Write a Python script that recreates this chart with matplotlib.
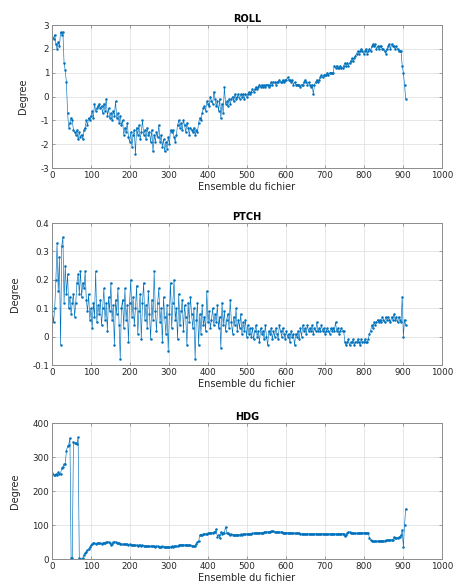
import matplotlib
matplotlib.use("Agg")
import matplotlib.pyplot as plt
import numpy as np

# one sample out of three, sample numbers 1, 4, 7, ... 907
roll = [
    2.5, 2.4, 2.6, 2.2, 2.0, 2.3, 2.1, 2.7, 2.6, 2.7,
    1.4, 1.1, 0.6, -0.7, -1.3, -1.1, -0.9, -1.0, -1.4, -1.5,
    -1.6, -1.4, -1.8, -1.5, -1.7, -1.6, -1.8, -1.4, -1.3, -1.0,
    -1.2, -0.9, -1.0, -0.8, -0.6, -0.9, -0.3, -0.6, -0.5, -0.4,
    -0.3, -0.5, -0.4, -0.7, -0.3, -0.6, -0.1, -0.8, -0.5, -0.9,
    -0.7, -1.0, -0.6, -0.8, -0.2, -0.9, -0.7, -1.1, -0.8, -1.2,
    -1.0, -1.6, -1.3, -1.5, -1.1, -1.7, -1.9, -1.5, -2.1, -1.6,
    -1.4, -2.4, -1.3, -1.6, -1.2, -1.8, -1.5, -1.0, -1.6, -1.4,
    -1.8, -1.3, -1.6, -1.5, -1.9, -1.4, -2.3, -1.6, -1.9, -1.5,
    -1.7, -1.2, -1.9, -1.6, -2.1, -1.8, -2.3, -1.9, -2.2, -1.7,
    -2.0, -1.4, -1.5, -1.4, -1.7, -1.9, -1.6, -1.2, -1.0, -1.3,
    -1.1, -1.4, -1.0, -1.2, -1.5, -1.1, -1.3, -1.6, -1.3, -1.4,
    -1.5, -1.3, -1.6, -1.4, -1.5, -1.1, -0.9, -1.0, -0.7, -0.5,
    -0.4, -0.6, -0.2, -0.3, -0.4, 0.0, -0.2, -0.3, 0.2, -0.1,
    -0.4, -0.2, -0.6, -0.1, -0.9, -0.3, -0.7, 0.4, -0.3, -0.2,
    -0.4, -0.1, -0.3, -0.1, 0.0, -0.2, 0.1, -0.1, 0.0, 0.1,
    -0.1, 0.1, 0.0, 0.1, -0.1, 0.1, 0.0, 0.1, 0.2, 0.1,
    0.2, 0.3, 0.2, 0.3, 0.4, 0.3, 0.4, 0.5, 0.4, 0.5,
    0.4, 0.5, 0.4, 0.5, 0.5, 0.4, 0.5, 0.6, 0.5, 0.6,
    0.6, 0.5, 0.6, 0.6, 0.7, 0.6, 0.6, 0.7, 0.6, 0.7,
    0.7, 0.8, 0.7, 0.7, 0.6, 0.7, 0.5, 0.6, 0.5, 0.5,
    0.5, 0.5, 0.4, 0.5, 0.5, 0.6, 0.7, 0.6, 0.5, 0.6,
    0.5, 0.4, 0.5, 0.1, 0.5, 0.6, 0.7, 0.6, 0.7, 0.8,
    0.9, 0.8, 0.9, 0.9, 0.9, 1.0, 0.9, 1.0, 1.0, 1.0,
    1.0, 1.3, 1.2, 1.3, 1.2, 1.2, 1.3, 1.2, 1.2, 1.3,
    1.4, 1.3, 1.4, 1.3, 1.4, 1.5, 1.6, 1.5, 1.6, 1.7,
    1.8, 1.9, 1.8, 1.9, 2.0, 1.9, 1.8, 1.9, 2.0, 1.8,
    1.9, 2.0, 1.9, 2.1, 2.2, 2.1, 2.2, 2.0, 2.1, 2.0,
    2.1, 2.1, 2.0, 2.0, 1.9, 1.8, 2.0, 2.1, 2.2, 2.0,
    2.2, 2.1, 2.1, 2.0, 2.1, 2.0, 1.9, 1.9, 1.9, 1.3,
    1.0, 0.5, -0.1,
]

ptch = [
    0.09, 0.05, 0.10, 0.20, 0.33, 0.16, 0.28, -0.03, 0.32, 0.35,
    0.12, 0.25, 0.15, 0.22, 0.10, 0.14, 0.08, 0.12, 0.15, 0.07,
    0.12, 0.19, 0.22, 0.15, 0.23, 0.14, 0.19, 0.17, 0.23, 0.13,
    0.09, 0.15, 0.06, 0.10, 0.03, 0.12, 0.07, 0.23, 0.05, 0.11,
    0.08, 0.13, 0.04, 0.10, 0.17, 0.06, 0.12, 0.02, 0.14, 0.09,
    0.19, 0.06, 0.11, -0.03, 0.13, 0.08, 0.17, 0.04, -0.08, 0.10,
    0.13, 0.03, 0.17, 0.06, 0.11, -0.02, 0.12, 0.20, 0.07, 0.14,
    0.04, 0.10, 0.18, 0.01, 0.09, 0.15, -0.01, 0.12, 0.19, 0.06,
    0.11, 0.03, 0.16, 0.08, -0.01, 0.13, 0.06, 0.23, 0.09, 0.02,
    0.12, 0.17, 0.05, 0.10, -0.02, 0.14, 0.07, 0.01, 0.11, -0.05,
    0.08, 0.19, 0.03, 0.12, 0.20, 0.06, 0.10, -0.01, 0.15, 0.04,
    0.09, 0.13, 0.02, 0.11, 0.07, -0.03, 0.12, 0.05, 0.14, 0.08,
    0.03, 0.10, -0.08, 0.06, 0.12, -0.03, 0.08, 0.01, 0.11, 0.04,
    0.07, 0.02, 0.16, 0.05, 0.09, 0.03, 0.06, 0.10, 0.04, 0.08,
    0.05, 0.11, 0.03, 0.07, -0.04, 0.12, 0.04, 0.09, 0.02, 0.06,
    0.08, 0.03, 0.13, 0.05, 0.01, 0.07, 0.04, 0.10, 0.02, 0.06,
    0.03, 0.08, 0.01, 0.05, 0.02, 0.06, 0.00, 0.04, 0.01, 0.03,
    0.00, 0.03, -0.01, 0.02, 0.04, 0.00, 0.02, -0.02, 0.03, 0.01,
    0.02, -0.01, 0.04, 0.00, -0.03, 0.02, 0.01, 0.03, -0.01, 0.02,
    0.00, 0.03, 0.01, -0.01, 0.04, 0.02, 0.00, 0.03, 0.01, -0.01,
    0.02, 0.00, 0.01, -0.02, 0.02, 0.00, 0.01, -0.03, 0.01, 0.00,
    0.02, -0.01, 0.03, 0.00, 0.04, 0.02, 0.03, 0.01, 0.04, 0.02,
    0.03, 0.02, 0.04, 0.01, 0.03, 0.02, 0.05, 0.02, 0.03, 0.02,
    0.04, 0.02, 0.03, 0.01, 0.02, 0.03, 0.02, 0.01, 0.03, 0.02,
    0.03, 0.02, 0.05, 0.02, 0.03, 0.01, 0.02, 0.03, 0.02, 0.02,
    -0.02, -0.03, -0.02, -0.01, -0.03, -0.02, -0.02, -0.01, -0.03, -0.02,
    -0.02, -0.01, -0.02, -0.03, -0.01, -0.02, -0.02, -0.01, -0.02, -0.02,
    -0.01, 0.01, 0.02, 0.04, 0.03, 0.05, 0.04, 0.05, 0.06, 0.05,
    0.06, 0.05, 0.07, 0.06, 0.05, 0.07, 0.06, 0.07, 0.06, 0.05,
    0.07, 0.06, 0.08, 0.06, 0.07, 0.05, 0.07, 0.06, 0.05, 0.14,
    0.00, 0.06, 0.04,
]

hdg = [
    252, 248, 247, 250, 246, 255, 250, 251, 268, 272,
    278, 280, 318, 332, 336, 356, 3, 2, 345, 342,
    340, 338, 358, 2, 1, 0, 3, 12, 18, 22,
    26, 30, 35, 40, 44, 47, 46, 45, 46, 46,
    46, 47, 45, 47, 48, 47, 49, 50, 50, 48,
    42, 44, 49, 50, 50, 48, 47, 46, 45, 44,
    44, 43, 44, 43, 43, 42, 43, 42, 41, 42,
    41, 40, 41, 39, 40, 40, 39, 40, 39, 38,
    39, 38, 38, 37, 38, 37, 37, 37, 36, 37,
    37, 36, 36, 36, 37, 36, 36, 35, 36, 36,
    36, 36, 37, 36, 37, 38, 37, 38, 41, 42,
    42, 41, 42, 41, 42, 41, 41, 40, 40, 39,
    39, 38, 37, 45, 50, 52, 70, 72, 72, 73,
    74, 74, 75, 76, 76, 77, 78, 78, 79, 80,
    88, 66, 72, 62, 80, 74, 78, 76, 95, 78,
    76, 74, 72, 73, 72, 71, 72, 71, 72, 72,
    72, 73, 72, 73, 73, 74, 74, 74, 75, 75,
    75, 76, 76, 76, 77, 77, 77, 78, 78, 78,
    78, 79, 79, 79, 80, 80, 80, 81, 81, 81,
    80, 80, 80, 79, 79, 79, 79, 78, 78, 78,
    78, 78, 77, 77, 77, 77, 76, 76, 76, 76,
    76, 76, 75, 75, 75, 75, 75, 75, 74, 74,
    74, 74, 74, 74, 74, 74, 74, 74, 74, 74,
    74, 74, 74, 74, 74, 74, 74, 74, 74, 74,
    74, 74, 74, 74, 74, 74, 74, 75, 75, 75,
    67, 72, 78, 80, 79, 77, 77, 76, 76, 76,
    76, 76, 77, 77, 77, 77, 77, 77, 78, 78,
    78, 62, 55, 53, 52, 52, 52, 52, 53, 53,
    54, 54, 54, 53, 54, 55, 55, 55, 56, 56,
    57, 57, 65, 62, 62, 63, 64, 64, 70, 85,
    35, 100, 148,
]

titles = ["ROLL", "PTCH", "HDG"]
ylims = [(-3, 3), (-0.1, 0.4), (0, 400)]
yticks = [[-3, -2, -1, 0, 1, 2, 3],
          [-0.1, 0, 0.1, 0.2, 0.3, 0.4],
          [0, 100, 200, 300, 400]]
yticklabels = [["-3", "-2", "-1", "0", "1", "2", "3"],
               ["-0.1", "0", "0.1", "0.2", "0.3", "0.4"],
               ["0", "100", "200", "300", "400"]]
xticks = [0, 100, 200, 300, 400, 500, 600, 700, 800, 900, 1000]

samples = np.arange(len(roll)) * 3 + 1

blue = "#0072BD"
txt = "#262626"

fig = plt.figure(figsize=(4.54, 5.85), dpi=100)
positions = [[0.1145, 0.7128, 0.859, 0.2444],
             [0.1145, 0.376, 0.859, 0.2427],
             [0.1145, 0.0444, 0.859, 0.2325]]

for pos, data, title, ylim, yt, ytl in zip(positions, [roll, ptch, hdg], titles, ylims, yticks, yticklabels):
    ax = fig.add_axes(pos)
    ax.plot(samples, data, "-", color=blue, lw=0.45, marker=".", ms=1.6)
    ax.set_xlim(0, 1000)
    ax.set_ylim(*ylim)
    ax.set_xticks(xticks)
    ax.set_xticklabels([str(t) for t in xticks])
    ax.set_yticks(yt)
    ax.set_yticklabels(ytl)
    ax.grid(True, color="#e2e2e2", lw=0.6)
    ax.set_axisbelow(True)
    ax.tick_params(direction="in", length=2.5, width=0.6, top=True, right=True,
                   labelsize=6.3, colors="#8c8c8c", labelcolor=txt, pad=2)
    for s in ax.spines.values():
        s.set_color("#8c8c8c")
        s.set_linewidth(0.7)
    ax.set_title(title, fontsize=7, fontweight="bold", pad=2.5, color="black")
    ax.set_xlabel("Ensemble du fichier", fontsize=7, color=txt, labelpad=1.5)
    ax.set_ylabel("Degree", fontsize=7, color=txt, labelpad=9)

plt.savefig("out.png", dpi=100)
